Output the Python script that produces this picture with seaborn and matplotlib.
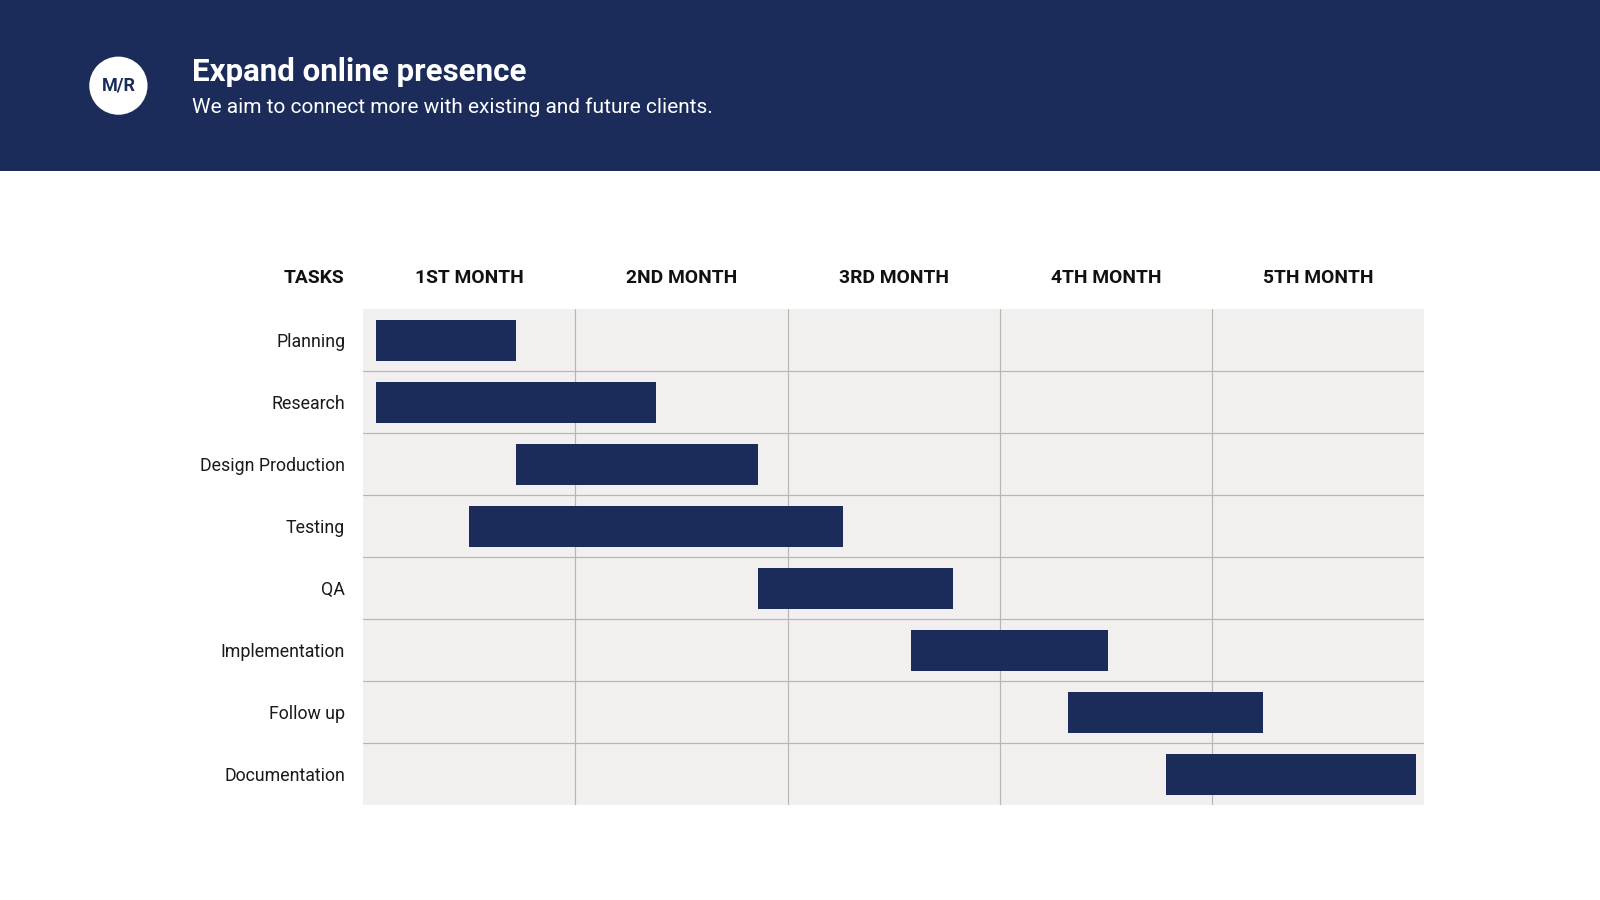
import matplotlib
matplotlib.use("Agg")
import matplotlib.pyplot as plt
import seaborn as sns
from matplotlib.patches import Rectangle, Ellipse

tasks = ["Planning", "Research", "Design Production", "Testing", "QA",
         "Implementation", "Follow up", "Documentation"]
start_month = [0.06, 0.06, 0.72, 0.50, 1.86, 2.58, 3.32, 3.78]
end_month = [0.72, 1.38, 1.86, 2.26, 2.78, 3.51, 4.24, 4.96]
month_labels = ["1ST MONTH", "2ND MONTH", "3RD MONTH", "4TH MONTH", "5TH MONTH"]
title = "Expand online presence"
subtitle = "We aim to connect more with existing and future clients."
logo = "M/R"

NAVY = "#1B2C5B"
BG = "#F1F0EE"
GRID = "#B8B6B3"

sns.set_theme(style="white")
FONT = ["Roboto", "DejaVu Sans"]
plt.rcParams["font.family"] = FONT

fig = plt.figure(figsize=(16, 9), dpi=100)
fig.patch.set_facecolor("white")

# header band
fig.add_artist(Rectangle((0, 0.8095), 1, 0.1905, transform=fig.transFigure,
                         facecolor=NAVY, edgecolor="none", zorder=0))
fig.add_artist(Ellipse((0.0740, 0.9048), 0.0364, 0.0646, transform=fig.transFigure,
                       facecolor="white", edgecolor="none", zorder=1))
fig.text(0.0740, 0.9048, logo, ha="center", va="center", color=NAVY,
         fontsize=13, fontweight="bold", zorder=2)
fig.text(0.1199, 0.9200, title, ha="left", va="center", color="white",
         fontsize=22.5, fontweight="bold")
fig.text(0.1199, 0.8805, subtitle, ha="left", va="center", color="white",
         fontsize=15)

ax = fig.add_axes([0.2270, 0.1054, 0.6633, 0.5511])
ax.set_facecolor(BG)

widths = [e - s for s, e in zip(start_month, end_month)]
ax.barh(range(len(tasks)), widths, left=start_month, height=0.66,
        color=NAVY, edgecolor="none", zorder=3)

ax.set_xlim(0, 5)
ax.set_ylim(len(tasks) - 0.5, -0.5)
for x in range(1, 5):
    ax.axvline(x, color=GRID, lw=0.85, zorder=1)
for y in range(1, len(tasks)):
    ax.axhline(y - 0.5, color=GRID, lw=0.85, zorder=1)

ax.set_yticks(range(len(tasks)))
ax.set_yticklabels(tasks, fontsize=12.8, color="#1a1a1a")
ax.tick_params(axis="y", length=0, pad=13)
ax.set_xticks([])
for sp in ax.spines.values():
    sp.set_visible(False)

# column headers
HEAD_Y = -1.01
for i, lab in enumerate(month_labels):
    ax.text(i + 0.5, HEAD_Y, lab, ha="center", va="center", fontsize=13.9,
            fontweight="bold", color="#111111")
ax.text(-0.087, HEAD_Y, "TASKS", ha="right", va="center", fontsize=13.9,
        fontweight="bold", color="#111111")
ax.set_ylim(len(tasks) - 0.5, -0.5)

fig.savefig("out.png", dpi=100, facecolor="white")
